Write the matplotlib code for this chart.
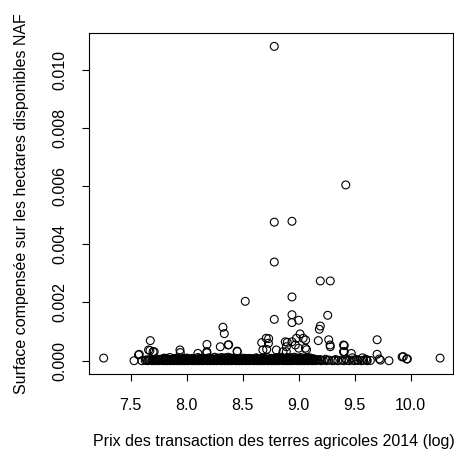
import numpy as np
import matplotlib.pyplot as plt

plt.rcParams['font.family'] = ['Liberation Sans', 'DejaVu Sans']

# points: (log price, surface) with surface in 1e-5 units
outliers = [
    (8.782, 1080), (9.42, 604), (8.782, 476), (8.94, 479), (8.782, 339),
    (9.193, 274), (9.282, 274), (8.94, 219), (8.523, 204), (8.94, 158),
    (9.259, 156), (8.782, 142), (9.0, 139), (8.94, 131), (8.324, 115),
    (9.193, 119), (9.184, 108), (8.336, 93), (9.012, 92), (9.062, 71),
    (8.732, 76), (8.67, 62), (8.898, 63), (9.175, 69), (9.268, 72),
    (9.70, 72), (7.675, 69), (8.181, 56), (9.407, 52), (8.375, 55),
    (9.282, 48), (8.89, 48), (9.0, 43), (9.07, 38), (9.407, 31),
    (8.714, 39), (8.452, 31), (7.672, 35), (7.71, 31), (7.577, 22),
    (7.943, 28), (8.18, 27), (9.70, 22), (9.923, 13), (9.97, 6),
    (10.262, 9), (7.259, 9), (7.53, 0), (9.806, 0), (9.72, 6),
    (9.57, 10), (9.48, 10), (9.61, 2),
    (8.71, 77), (8.73, 60), (8.68, 37), (8.80, 37), (8.86, 31),
    (8.30, 48), (8.37, 54), (8.45, 33), (7.57, 20), (7.66, 37),
    (7.70, 31), (7.94, 37), (8.10, 25), (8.18, 31), (8.88, 65),
    (8.94, 65), (8.98, 77), (9.04, 77), (9.28, 54), (9.40, 54),
    (9.40, 31), (9.47, 25), (9.06, 43), (8.97, 54), (8.89, 31),
    (9.934, 14), (9.964, 6), (9.73, 2),
]

# dense band close to zero
band_low = [
    (7.60, 0), (7.63, 1), (7.65, 0), (7.66, 2), (7.69, 0), (7.70, 1), (7.72, 0),
    (7.74, 2), (7.75, 0), (7.77, 1), (7.79, 0), (7.80, 2), (7.82, 0), (7.84, 1),
    (7.85, 0), (7.87, 2), (7.88, 0), (7.90, 1), (7.92, 0), (7.93, 2), (7.95, 0),
    (7.97, 1), (7.98, 0), (8.00, 2), (8.01, 0), (8.03, 1), (8.05, 0), (8.06, 2),
    (8.08, 0), (8.10, 1), (8.11, 0), (8.13, 2), (8.14, 0), (8.16, 1), (8.18, 0),
    (8.19, 2), (8.21, 0), (8.23, 1), (8.24, 0), (8.26, 2), (8.27, 0), (8.29, 1),
    (8.31, 0), (8.32, 2), (8.34, 0), (8.35, 1), (8.37, 0), (8.39, 2), (8.40, 0),
    (8.42, 1), (8.44, 0), (8.45, 2), (8.47, 0), (8.48, 1), (8.50, 0), (8.52, 2),
    (8.53, 0), (8.55, 1), (8.56, 0), (8.58, 2), (8.60, 0), (8.61, 1), (8.63, 0),
    (8.65, 2), (8.66, 0), (8.68, 1), (8.69, 0), (8.71, 2), (8.73, 0), (8.74, 1),
    (8.76, 0), (8.78, 2), (8.79, 0), (8.81, 1), (8.82, 0), (8.84, 2), (8.86, 0),
    (8.87, 1), (8.89, 0), (8.90, 2), (8.92, 0), (8.94, 1), (8.95, 0), (8.97, 2),
    (8.99, 0), (9.00, 1), (9.02, 0), (9.03, 2), (9.05, 0), (9.07, 1), (9.08, 0),
    (9.10, 2), (9.12, 0), (9.13, 1), (9.15, 0), (9.17, 2), (9.20, 0), (9.22, 1),
    (9.25, 0), (9.27, 2), (9.30, 0), (9.32, 1), (9.35, 0), (9.38, 2), (9.40, 0),
    (9.43, 1), (9.45, 0), (9.48, 2), (9.50, 0), (9.53, 1), (9.56, 0), (9.58, 2),
    (9.61, 0), (9.64, 1),
]
band_low2 = [
    (7.64, 3), (7.67, 2), (7.71, 3), (7.73, 2), (7.76, 3), (7.78, 2), (7.81, 3),
    (7.83, 2), (7.86, 3), (7.89, 2), (7.91, 3), (7.94, 2), (7.96, 3), (7.99, 2),
    (8.02, 3), (8.04, 2), (8.07, 3), (8.09, 2), (8.12, 3), (8.15, 2), (8.17, 3),
    (8.20, 2), (8.22, 3), (8.25, 2), (8.28, 3), (8.30, 2), (8.33, 3), (8.36, 2),
    (8.38, 3), (8.41, 2), (8.43, 3), (8.46, 2), (8.49, 3), (8.51, 2), (8.54, 3),
    (8.57, 2), (8.59, 3), (8.62, 2), (8.64, 3), (8.67, 2), (8.70, 3), (8.72, 2),
    (8.75, 3), (8.77, 2), (8.80, 3), (8.83, 2), (8.85, 3), (8.88, 2), (8.91, 3),
    (8.93, 2), (8.96, 3), (8.98, 2), (9.01, 3), (9.04, 2), (9.06, 3), (9.09, 2),
    (9.11, 3), (9.14, 2), (9.16, 3), (9.19, 2),
]
band_mid = [
    (7.68, 5), (7.71, 4), (7.73, 6), (7.76, 5), (7.78, 4), (7.81, 6), (7.83, 5),
    (7.86, 4), (7.89, 6), (7.91, 5), (7.94, 4), (7.96, 6), (7.99, 5), (8.02, 4),
    (8.04, 6), (8.07, 5), (8.09, 4), (8.12, 6), (8.15, 5), (8.17, 4), (8.20, 6),
    (8.22, 5), (8.25, 4), (8.28, 6), (8.30, 5), (8.33, 4), (8.35, 6), (8.38, 5),
    (8.41, 4), (8.43, 6), (8.46, 5), (8.48, 4), (8.51, 6), (8.54, 5), (8.56, 4),
    (8.59, 6), (8.61, 5), (8.64, 4), (8.67, 6), (8.69, 5), (8.72, 4), (8.74, 6),
    (8.77, 5), (8.80, 4), (8.82, 6), (8.85, 5), (8.87, 4), (8.90, 6), (8.93, 5),
    (8.95, 4), (8.98, 6), (9.00, 5), (9.03, 4), (9.06, 6), (9.08, 5), (9.11, 4),
    (9.14, 6), (9.19, 4), (9.24, 5), (9.33, 4), (9.42, 5), (9.52, 4), (9.60, 5),
]
band_mid2 = [
    (7.79, 7), (7.82, 8), (7.88, 7), (7.92, 8), (7.97, 7), (8.01, 8), (8.06, 7),
    (8.11, 8), (8.14, 7), (8.18, 8), (8.23, 7), (8.27, 8), (8.32, 7), (8.36, 8),
    (8.39, 7), (8.42, 8), (8.47, 7), (8.53, 8), (8.58, 7), (8.63, 8), (8.66, 7),
    (8.70, 8), (8.75, 7), (8.79, 8), (8.83, 7), (8.86, 8), (8.89, 7), (8.92, 8),
    (8.97, 7), (9.01, 8), (9.05, 7), (9.09, 8), (9.12, 7),
]
band_top = [
    (7.80, 9), (7.85, 11), (7.90, 8), (7.95, 10), (8.00, 9), (8.05, 8),
    (8.10, 11), (8.15, 9), (8.20, 10), (8.25, 12), (8.28, 9), (8.31, 11),
    (8.34, 10), (8.37, 12), (8.40, 9), (8.44, 8), (8.50, 9), (8.56, 8),
    (8.62, 10), (8.68, 9), (8.72, 11), (8.76, 8), (8.80, 10), (8.84, 12),
    (8.87, 9), (8.90, 11), (8.93, 10), (8.96, 12), (8.99, 9), (9.02, 11),
    (9.06, 8), (9.10, 10),
]

xticks = [7.5, 8.0, 8.5, 9.0, 9.5, 10.0]
yticks = [0.0, 0.002, 0.004, 0.006, 0.008, 0.010]

pts = np.array(outliers + band_low + band_low2 + band_mid + band_mid2 + band_top,
               dtype=float)
x = pts[:, 0]
y = pts[:, 1] * 1e-5

fig = plt.figure(figsize=(4.54, 4.57), dpi=100)
ax = fig.add_axes([89 / 454, 1 - 374 / 457, 364.5 / 454, 341 / 457])

ax.scatter(x, y, s=32, facecolors='none', edgecolors='black', linewidths=0.8)

ax.set_xlim(7.128, 10.382)
ax.set_ylim(-0.000457, 0.01126)

ax.set_xticks(xticks)
ax.set_xticklabels(['%.1f' % v for v in xticks])
ax.set_yticks(yticks)
ax.set_yticklabels(['%.3f' % v for v in yticks], rotation=90, va='center')

for s in ax.spines.values():
    s.set_linewidth(0.8)
ax.tick_params(direction='out', length=5, width=0.8, labelsize=11.5)
ax.tick_params(axis='x', pad=12)
ax.tick_params(axis='y', pad=10.5)

ax.set_xlabel('Prix des transaction des terres agricoles 2014 (log)', fontsize=11.5)
ax.set_ylabel('Surface compensée sur les hectares disponibles NAF', fontsize=11.5)
ax.xaxis.set_label_coords((273.5 - 89) / 364.5, -60 / 341)
ax.yaxis.set_label_coords(-60 / 364.5, 0.5)

fig.savefig('out.png', dpi=100)
